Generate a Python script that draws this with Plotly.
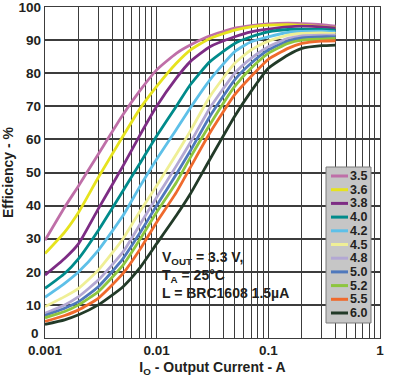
import plotly.graph_objects as go

# ---- data ----
current_A = [0.001, 0.0015, 0.002, 0.003, 0.005, 0.007, 0.01, 0.015, 0.02, 0.03,
             0.05, 0.07, 0.1, 0.15, 0.2, 0.3, 0.4]

vin_labels = ["3.5", "3.6", "3.8", "4.0", "4.2", "4.5", "4.8", "5.0", "5.2", "5.5", "6.0"]

eff_3p5 = [29.5, 39.5, 46, 55.5, 67.5, 74.5, 81, 86, 88.5, 91.3, 93.6, 94.4, 94.9, 95.1, 95.0, 94.7, 94.2]
eff_3p6 = [25.5, 32, 38, 48.5, 61, 69, 76, 83, 87, 90.5, 93, 94, 94.5, 94.7, 94.5, 94.1, 93.7]
eff_3p8 = [19, 24, 28.5, 39, 52, 61, 70, 78.5, 83.5, 88, 91, 92.5, 93.3, 94, 94.2, 94, 93.6]
eff_4p0 = [15, 19.5, 24, 32.5, 44.5, 52.5, 61, 70, 76.5, 83.5, 89, 91, 92.5, 93.2, 93.3, 93.2, 93]
eff_4p2 = [12.3, 16.5, 20, 26.5, 37, 45.5, 54, 63, 69.5, 78, 86.5, 89.5, 91, 92.3, 92.6, 92.7, 92.5]
eff_4p5 = [9.5, 12.5, 15, 20.5, 30, 38, 46, 55.5, 62.5, 73, 83, 87, 89.7, 91.5, 92, 92.2, 92]
eff_4p8 = [7.5, 10, 12.5, 17.5, 26, 34, 42.5, 52, 59, 69.5, 80, 84.5, 88, 90.5, 91.3, 91.5, 91.5]
eff_5p0 = [6.8, 9, 11, 15.5, 24, 31.5, 40, 49.5, 56.5, 67, 78, 83, 87, 89.7, 90.7, 91, 91]
eff_5p2 = [6.1, 8, 10, 14, 22, 29.5, 38, 47, 54.5, 64.5, 76, 81.5, 86, 89, 90, 90.3, 90.5]
eff_5p5 = [5, 6.8, 8.5, 12, 19.5, 26.5, 35, 44, 51.5, 62, 73.5, 79, 84.2, 87.5, 89, 89.7, 89.8]
eff_6p0 = [4.1, 5.5, 7, 10, 15.5, 21, 28.5, 37, 43.5, 54, 67, 74.5, 81.5, 85.5, 87.5, 88.3, 88.5]

series = [eff_3p5, eff_3p6, eff_3p8, eff_4p0, eff_4p2, eff_4p5,
          eff_4p8, eff_5p0, eff_5p2, eff_5p5, eff_6p0]

colors = ["#bf6fa8", "#e6e31e", "#7d2c84", "#008b8b", "#5ec0e8", "#efef96",
          "#b3a8d3", "#4f78bc", "#8dc63f", "#ef6a2d", "#223a28"]

y_ticks = [0, 10, 20, 30, 40, 50, 60, 70, 80, 90, 100]
# the "0" label sits a little above its gridline in the reference -> drawn separately
y_tick_text = ["" if v == 0 else str(v) for v in y_ticks]
x_decade_labels = {0.001: "0.001", 0.01: "0.01", 0.1: "0.1", 1: "1"}
x_tick_vals = [round(m * 10 ** e, 6) for e in (-3, -2, -1) for m in range(1, 10)] + [1]
x_tick_text = [x_decade_labels.get(v, "") for v in x_tick_vals]

FONT = "Liberation Sans, Arial, sans-serif"
TXT = "#231f20"
GRID = "#3c3c3c"

fig = go.Figure()
for name, vals, col in zip(vin_labels, series, colors):
    fig.add_trace(go.Scatter(x=current_A, y=vals, mode="lines", name=name,
                             line=dict(color=col, width=2.8, shape="spline", smoothing=0.5),
                             showlegend=False))

W, H = 393, 382
ml, mr, mt, mb = 45, 13, 7, 44
pw, ph = W - ml - mr, H - mt - mb


def px_to_paper_x(px):
    return (px - ml) / pw


def px_to_paper_y(py):
    return (H - mb - py) / ph


shapes = []
annotations = []

# "0" y tick label, raised slightly as in the reference
annotations.append(dict(xref="paper", yref="paper", x=px_to_paper_x(41), y=px_to_paper_y(333),
                        xanchor="right", yanchor="middle", showarrow=False, text=str(y_ticks[0]),
                        font=dict(family=FONT, size=13.5, color=TXT, weight="bold")))

# white condition box (covers grid, below curves)
shapes.append(dict(type="rect", xref="paper", yref="paper",
                   x0=px_to_paper_x(157), x1=px_to_paper_x(300),
                   y0=px_to_paper_y(302), y1=px_to_paper_y(243),
                   fillcolor="white", line=dict(width=0), layer="between"))
annotations.append(dict(xref="paper", yref="paper", x=px_to_paper_x(160), y=px_to_paper_y(247),
                        xanchor="left", yanchor="top", align="left", showarrow=False,
                        text="V<sub>OUT</sub> = 3.3 V,<br>T<sub>A</sub> = 25°C<br>L = BRC1608 1.5µA",
                        font=dict(family=FONT, size=14, color=TXT, weight="bold")))

# legend box drawn from the series names / colours
lx0, lx1, ly0, ly1 = 326, 371, 167, 323
shapes.append(dict(type="rect", xref="paper", yref="paper",
                   x0=px_to_paper_x(lx0), x1=px_to_paper_x(lx1),
                   y0=px_to_paper_y(ly1), y1=px_to_paper_y(ly0),
                   fillcolor="#c6c6c6", line=dict(color="#7a7a7a", width=1), layer="above"))
step = (313 - 176) / (len(vin_labels) - 1)
for i, (name, col) in enumerate(zip(vin_labels, colors)):
    yy = px_to_paper_y(176 + i * step)
    shapes.append(dict(type="line", xref="paper", yref="paper",
                       x0=px_to_paper_x(331), x1=px_to_paper_x(348), y0=yy, y1=yy,
                       line=dict(color=col, width=3), layer="above"))
    annotations.append(dict(xref="paper", yref="paper", x=px_to_paper_x(348), y=yy,
                            xanchor="left", yanchor="middle", showarrow=False, text=name,
                            font=dict(family=FONT, size=12.5, color=TXT, weight="bold")))

fig.update_layout(
    width=W, height=H,
    margin=dict(l=ml, r=mr, t=mt, b=mb, autoexpand=False),
    paper_bgcolor="white", plot_bgcolor="white",
    font=dict(family=FONT, color=TXT),
    shapes=shapes, annotations=annotations,
    showlegend=False,
)
fig.update_xaxes(type="log", range=[-3, 0], tickmode="array",
                 tickvals=x_tick_vals, ticktext=x_tick_text,
                 showgrid=True, gridcolor=GRID, gridwidth=1.4,
                 showline=True, linecolor=GRID, linewidth=1.4, mirror=True,
                 ticks="", zeroline=False, automargin=False, ticklabeloverflow="allow",
                 tickfont=dict(family=FONT, size=13.5, color=TXT, weight="bold"),
                 title=dict(text="I<sub>O</sub> - Output Current - A", standoff=4,
                            font=dict(family=FONT, size=14, color=TXT, weight="bold")))
fig.update_yaxes(range=[0, 100], tickmode="array", tickvals=y_ticks, ticktext=y_tick_text,
                 showgrid=True, gridcolor=GRID, gridwidth=1.8,
                 showline=True, linecolor=GRID, linewidth=1.4, mirror=True,
                 ticks="", zeroline=False, automargin=False, ticklabeloverflow="allow",
                 tickfont=dict(family=FONT, size=13.5, color=TXT, weight="bold"),
                 title=dict(text="Efficiency - %", standoff=2,
                            font=dict(family=FONT, size=14, color=TXT, weight="bold")))

fig.write_html("out.html", config={"displayModeBar": False},
               post_script="document.body.style.margin='0px';document.body.style.padding='0px';")
